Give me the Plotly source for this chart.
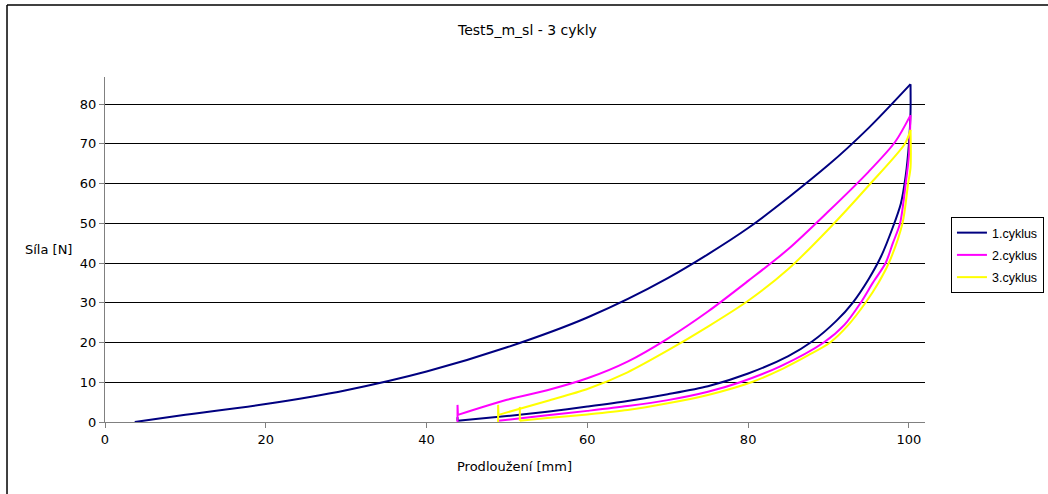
import plotly.graph_objects as go

# ---- Cycle 1 ----
c1_load_x = [3.7, 10, 20, 30, 40, 50, 60, 70, 80, 90, 95, 100.2]
c1_load_y = [0, 1.8, 4.5, 8, 12.7, 18.8, 26.3, 36.2, 48.8, 64.7, 74, 85]
c1_unload_x = [100.2, 100.2, 100.0, 99.6, 99.0, 98.0, 96.5, 95, 93, 91, 88, 85, 80, 75, 70, 65, 60, 55, 50, 43.85]
c1_unload_y = [85, 78, 70, 62, 55, 49, 41.5, 36, 30, 25.5, 20.3, 16.6, 12.2, 9.0, 7.0, 5.3, 3.9, 2.6, 1.5, 0.3]
c1_spike_x = [43.85, 43.85]
c1_spike_y = [0.3, 1.2]

# ---- Cycle 2 ----
c2_spike_x = [43.85, 43.85, 43.9]
c2_spike_y = [0, 4.3, 1.8]
c2_load_x = [43.9, 50, 55, 60, 65, 70, 75, 80, 85, 90, 95, 98.3, 100.2]
c2_load_y = [1.8, 5.6, 8.0, 11.0, 15.2, 21.0, 27.8, 35.5, 43.5, 53, 63, 70.5, 77.2]
c2_unload_x = [100.2, 100.0, 99.6, 98.9, 98.0, 97.1, 95.5, 94, 92, 89.4, 84, 79, 75, 70, 65, 60, 55, 52, 48.9]
c2_unload_y = [77.2, 67, 60, 50, 45, 40, 35, 30, 24.5, 20, 14, 10, 7.6, 5.5, 4.0, 2.8, 1.7, 1.0, 0.3]

# ---- Cycle 3 ----
c3_spike_x = [48.9, 48.9, 48.95]
c3_spike_y = [0, 4.3, 1.8]
c3_load_x = [48.95, 55, 60, 65, 70, 75, 80, 85, 90, 95, 99.5, 100.2]
c3_load_y = [1.8, 5.3, 8.3, 12.5, 18, 24, 30.5, 38.5, 48.5, 59.5, 70, 73.5]
c3_unload_x = [100.2, 100.2, 99.9, 99.2, 97.5, 96.2, 94.6, 92.5, 90.2, 87.5, 84.4, 80.4, 75, 70, 65, 60, 55, 51.6]
c3_unload_y = [73.5, 64, 60, 50, 40, 35, 30, 24.5, 20, 16.8, 13.5, 10, 6.8, 4.7, 3.0, 1.9, 1.0, 0.3]
c3_end_x = [51.6, 51.6]
c3_end_y = [0.3, 3.8]

series_names = ["1.cyklus", "2.cyklus", "3.cyklus"]
series_colors = ["#000080", "#FF00FF", "#FFFF00"]

x_ticks = [0, 20, 40, 60, 80, 100]
y_ticks = [0, 10, 20, 30, 40, 50, 60, 70, 80]

FONT = "DejaVu Sans"

cycles = [
    [(c1_load_x, c1_load_y, "spline"), (c1_unload_x, c1_unload_y, "spline"), (c1_spike_x, c1_spike_y, "linear")],
    [(c2_load_x, c2_load_y, "spline"), (c2_unload_x, c2_unload_y, "spline"), (c2_spike_x, c2_spike_y, "linear")],
    [(c3_load_x, c3_load_y, "spline"), (c3_unload_x, c3_unload_y, "spline"), (c3_spike_x, c3_spike_y, "linear"),
     (c3_end_x, c3_end_y, "linear")],
]

fig = go.Figure()
for segs, name, col in zip(cycles, series_names, series_colors):
    for i, (xs, ys, shp) in enumerate(segs):
        line = dict(color=col, width=2, shape=shp)
        if shp == "spline":
            line["smoothing"] = 0.8
        fig.add_trace(go.Scatter(x=xs, y=ys, mode="lines", name=name, legendgroup=name,
                                 showlegend=(i == 0), line=line))

fig.update_layout(
    width=1048, height=494,
    margin=dict(l=105, r=123, t=77, b=72, autoexpand=False),
    paper_bgcolor="white", plot_bgcolor="white",
    font=dict(family=FONT, size=13, color="black"),
    showlegend=True,
    legend=dict(xref="container", yref="container", x=0.9074, y=0.5607,
                xanchor="left", yanchor="top",
                bordercolor="black", borderwidth=1, bgcolor="white",
                itemwidth=30,
                font=dict(family="Liberation Sans", size=12.5), tracegroupgap=3),
    xaxis=dict(range=[0, 102], tickvals=x_ticks, showgrid=False, zeroline=False,
               showline=True, linecolor="#808080", linewidth=1,
               ticks="outside", ticklen=5, tickcolor="#808080"),
    yaxis=dict(range=[0, 86.8], tickvals=y_ticks, showgrid=True, gridcolor="black",
               gridwidth=1, zeroline=False,
               showline=True, linecolor="#808080", linewidth=1,
               ticks="outside", ticklen=5, tickcolor="#808080"),
    annotations=[
        dict(text="Test5_m_sl - 3 cykly", xref="paper", yref="paper", x=0.5146, y=1.136,
             xanchor="center", yanchor="middle",
             showarrow=False, font=dict(family=FONT, size=14)),
        dict(text="Síla [N]", xref="paper", yref="paper", x=-0.0695, y=0.4986,
             xanchor="center", yanchor="middle",
             showarrow=False, font=dict(family=FONT, size=13)),
        dict(text="Prodloužení [mm]", xref="paper", yref="paper", x=0.4988, y=-0.130,
             xanchor="center", yanchor="middle",
             showarrow=False, font=dict(family=FONT, size=13)),
    ],
    shapes=[
        dict(type="line", xref="paper", yref="paper", x0=-0.1195, x1=-0.1195, y0=1.2087, y1=-0.5,
             line=dict(color="black", width=1.5)),
        dict(type="line", xref="paper", yref="paper", x0=-0.1195, x1=1.5, y0=1.2087, y1=1.2087,
             line=dict(color="black", width=1.5)),
    ],
)

fig.write_html("out.html", config={"displayModeBar": False},
               post_script="document.body.style.margin='0';document.body.style.padding='0';")
